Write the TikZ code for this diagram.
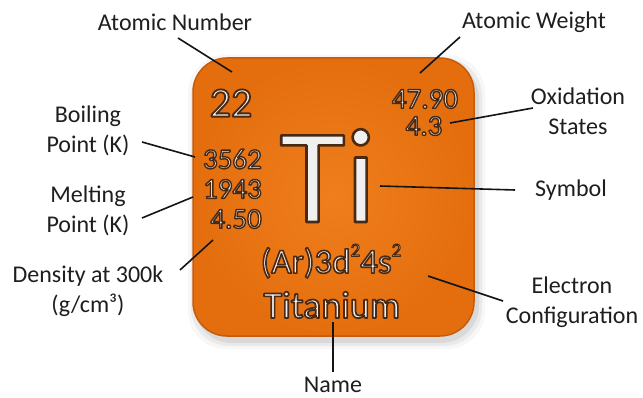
\documentclass[tikz,border=0pt]{standalone}
\usepackage{fontspec}
\setmainfont{Carlito}
\definecolor{lblc}{RGB}{30,30,30}
\definecolor{linec}{RGB}{20,20,20}
\definecolor{orgin}{RGB}{240,126,28}
\definecolor{orgout}{RGB}{228,110,14}
\definecolor{orgedge}{RGB}{200,90,10}
\definecolor{valc}{RGB}{240,240,240}
% outlined text: fill light, stroke dark brown (text render mode 2)
\newcommand\outl[2][1.4]{%
  \special{pdf:literal 2 Tr #1 w 1 j 0.28 0.16 0.08 RG}#2\special{pdf:literal 0 Tr}}
\newcommand\supr[1]{\raise0.48em\hbox{\special{pdf:literal 1 w}\fontsize{19}{19}\selectfont #1\special{pdf:literal 1.6 w}}}
\begin{document}
\begin{tikzpicture}[x=1pt,y=-1pt,
  lbl/.style={font=\fontsize{24}{30}\selectfont, text=lblc, align=center, inner sep=0pt},
  val/.style={font=\fontsize{29}{29}\selectfont, text=valc, inner sep=0pt},
  conn/.style={draw=linec, line width=1.6pt}]
\useasboundingbox (0,0) rectangle (643,398);
\fill[white] (0,0) rectangle (643,398);
% soft shadow
\foreach \i/\o in {8/0.03,5/0.05,2/0.07}
  \fill[black,opacity=\o,rounded corners=38pt] (193-\i+3,58-\i+5) rectangle (474+\i+3,336+\i+5);
% tile
\node (box) [draw=orgedge, line width=1.5pt, rounded corners=34pt, inner color=orgin, outer color=orgout,
  minimum width=281pt, minimum height=278pt, inner sep=0pt] at (333.5,197) {};
% values in tile
\node (num) [val, font=\fontsize{42}{42}\selectfont] at (231,103) {\outl[1.8]{22}};
\node (aw) [val] at (425,99) {\outl{47.90}};
\node (ox) [val] at (424,126) {\outl{4.3}};
\node (bp) [val, anchor=east] at (262,159) {\outl{3562}};
\node (mp) [val, anchor=east] at (262,189) {\outl{1943}};
\node (den) [val, anchor=east] at (262,219) {\outl{4.50}};
\node (sym) [val, font=\fontsize{135}{135}\selectfont, anchor=base] at (328,222) {\outl[2.6]{Ti}};
\node (ec) [val, font=\fontsize{35}{35}\selectfont] at (331,261) {\outl[1.6]{(Ar)3d\supr{2}4s\supr{2}}};
\node (nm) [val, font=\fontsize{38}{38}\selectfont] at (332,305) {\outl[1.7]{Titanium}};
% labels
\node (lAN) [lbl] at (175,22) {Atomic Number};
\node (lAW) [lbl] at (534,22) {Atomic Weight};
\node (lOS) [lbl] at (578,111) {Oxidation\\States};
\node (lSy) [lbl] at (571,190) {Symbol};
\node (lEC) [lbl] at (572,302) {Electron\\Configuration};
\node (lNm) [lbl] at (333,385) {Name};
\node (lBP) [lbl] at (88,131) {Boiling\\Point (K)};
\node (lMP) [lbl] at (88,211) {Melting\\Point (K)};
\node (lDe) [lbl] at (88,291) {Density at 300k\\(g/cm³)};
% connector ends
\coordinate (aAN) at (178,38);  \coordinate (bAN) at (232,72);
\coordinate (aAW) at (460,37);  \coordinate (bAW) at (420,73);
\coordinate (aOS) at (533,108); \coordinate (bOS) at (450,123);
\coordinate (aSy) at (515,190); \coordinate (bSy) at (380,186);
\coordinate (aEC) at (503,301); \coordinate (bEC) at (428,276);
\coordinate (aNm) at (333,372); \coordinate (bNm) at (333,322);
\coordinate (aBP) at (142,142); \coordinate (bBP) at (195,157);
\coordinate (aMP) at (142,218); \coordinate (bMP) at (193,197);
\coordinate (aDe) at (180,270); \coordinate (bDe) at (213,240);
\foreach \k in {AN,AW,OS,Sy,EC,Nm,BP,MP,De}
  \draw[conn] (a\k) -- (b\k);
\end{tikzpicture}
\end{document}
